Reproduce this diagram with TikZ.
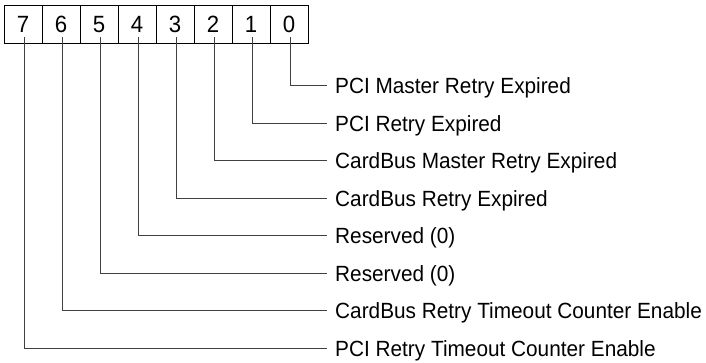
\documentclass[tikz,border=0pt]{standalone}
\usepackage{fontspec}
\setmainfont{Liberation Sans}[FakeStretch=0.945]
\begin{document}
\begin{tikzpicture}[x=1pt,y=-1pt,
  bitcell/.style={draw=black,line width=1pt,minimum width=38pt,minimum height=38pt,
    inner sep=0pt,font=\fontsize{23.5}{27}\selectfont},
  bitlabel/.style={anchor=west,inner xsep=8pt,inner ysep=0pt,
    font=\fontsize{22}{26}\selectfont},
  leader/.style={draw=black!75,line width=0.9pt}]
\useasboundingbox (0,0) rectangle (706,362);
\foreach \k in {0,...,7}{
  \node[bitcell] (c\k) at ({4+38*(7-\k)+19},24.3) {\k};
}
\node[bitlabel] (l0) at (327,88) {PCI Master Retry Expired};
\node[bitlabel] (l1) at (327,125.5) {PCI Retry Expired};
\node[bitlabel] (l2) at (327,163) {CardBus Master Retry Expired};
\node[bitlabel] (l3) at (327,200.5) {CardBus Retry Expired};
\node[bitlabel] (l4) at (327,238) {Reserved (0)};
\node[bitlabel] (l5) at (327,275.5) {Reserved (0)};
\node[bitlabel] (l6) at (327,313) {CardBus Retry Timeout Counter Enable};
\node[bitlabel] (l7) at (327,350.5) {PCI Retry Timeout Counter Enable};
\foreach \k in {0,...,7}{
  \draw[leader] ([xshift=1pt,yshift=6.5pt]c\k.south) |- ([yshift=2.5pt]l\k.west);
}
\end{tikzpicture}
\end{document}
